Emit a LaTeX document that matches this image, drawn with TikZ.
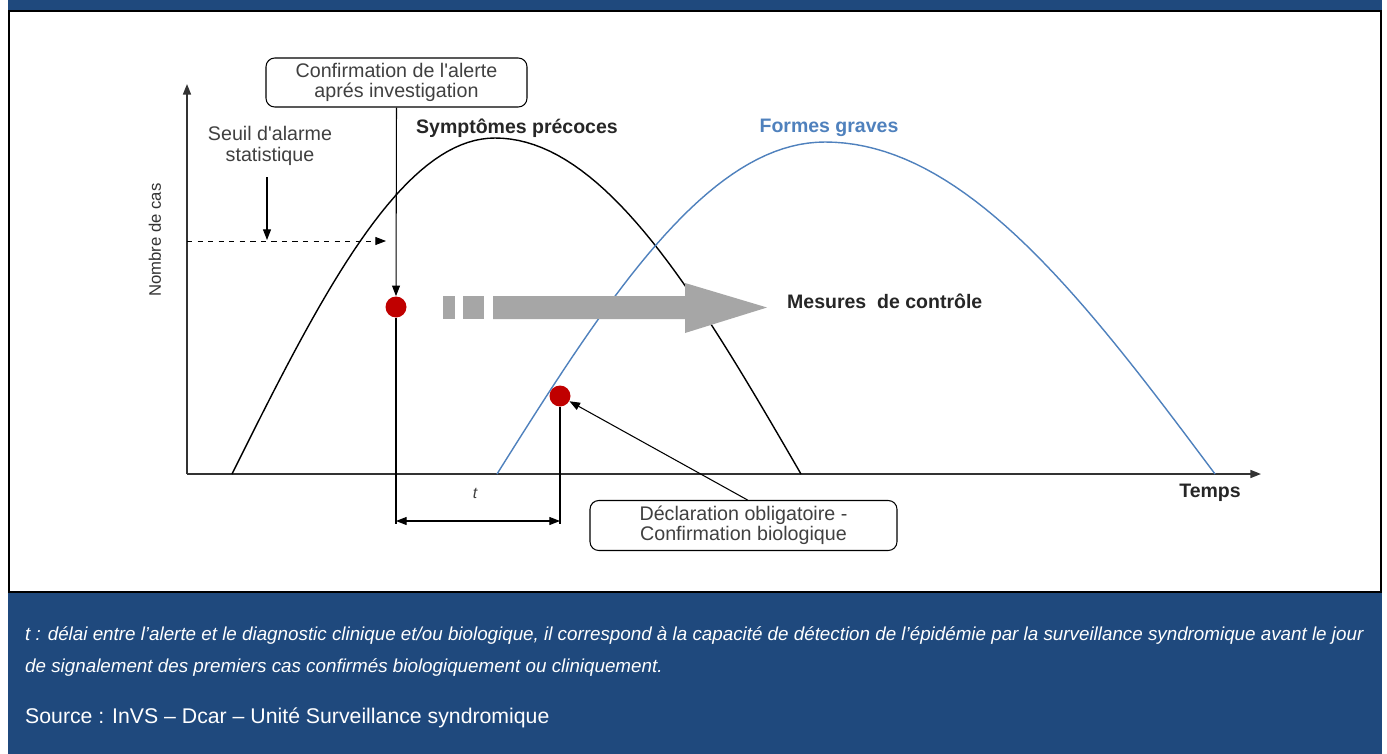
\documentclass[tikz,border=0pt]{standalone}
\usepackage{fontspec}
\setmainfont{Liberation Sans}[Ligatures=TeXOff]
\usepackage{xcolor}
\usetikzlibrary{arrows.meta,positioning,calc}

\definecolor{bandblue}{HTML}{1F497D}
\definecolor{curveblue}{HTML}{4F81BD}
\definecolor{dotred}{HTML}{C00000}
\definecolor{arrowgray}{HTML}{A6A6A6}
\definecolor{textgray}{HTML}{404040}
\definecolor{axisgray}{HTML}{333333}

\begin{document}
\begin{tikzpicture}[x=0.02cm, y=-0.02cm,
    labelbox/.style={draw, rounded corners=5pt, line width=0.6pt, text=textgray, align=center,
        font=\fontsize{11.2}{12.5}\selectfont, inner sep=0pt},
    plain/.style={text=textgray, align=center, font=\fontsize{11.2}{12.5}\selectfont},
    boldlabel/.style={font=\bfseries\fontsize{11.1}{12.5}\selectfont, text=black!85},
    reddot/.style={circle, fill=dotred, inner sep=0pt, minimum size=0.42cm},
    tip/.style={-{Triangle[length=6pt,width=4.5pt]}},
    footer/.style={anchor=west, text=white, font=\itshape\fontsize{10.7}{12}\selectfont}]
    \useasboundingbox (0,0) rectangle (1387,754);

    % frame, header band and footer
    \fill[white] (0,0) rectangle (1387,754);
    \fill[bandblue] (8,0) rectangle (1382,754);
    \draw[line width=1.3pt, fill=white] (9,11) rectangle (1381,592);

    % axes
    \coordinate (origin) at (187,474);
    \draw[axisgray, line width=0.9pt, tip] (origin) -- (187,84);
    \draw[axisgray, line width=0.9pt, tip] (origin) -- (1261,474);
    \node[rotate=90, font=\fontsize{9.5}{11}\selectfont, text=black!80] (ylabel) at (155,240) {Nombre de cas};
    \node[boldlabel] (temps) at (1210,493) {Temps};

    % the two epidemic curves
    \draw[line width=0.8pt] plot[domain=232:495, samples=40] (\x, {474-336*sin(90/263*(\x-232))})
        -- plot[domain=495:801, samples=40] (\x, {474-336*cos(90/306*(\x-495))});
    \draw[curveblue, line width=0.8pt] plot[domain=497:825, samples=40] (\x, {474-332*sin(90/328*(\x-497))})
        -- plot[domain=825:1215, samples=40] (\x, {474-332*cos(90/390*(\x-825))});
    \node[boldlabel] (precoces) at (517,128) {Symptômes précoces};
    \node[boldlabel, text=curveblue] (graves) at (829,128) {Formes graves};

    % alarm threshold
    \node[plain] (seuil) at (270,146) {Seuil d'alarme\\[-1pt]statistique};
    \coordinate (seuilpt) at (267,240);
    \coordinate (dashend) at (386,241);
    \draw[tip, line width=0.6pt] (seuil.south) ++(-3,6) -- (seuilpt);
    \draw[tip, dashed, line width=0.5pt] (187,241) -- (dashend);

    % control measures arrow
    \fill[arrowgray] (443,296) rectangle (455,319);
    \fill[arrowgray] (463,296) rectangle (484,319);
    \fill[arrowgray] (493,296) -- (685,296) -- (685,283) -- (767,307.5) -- (685,333) -- (685,319) -- (493,319) -- cycle;
    \node[boldlabel, anchor=west] (mesures) at (781,301) {Mesures~ de contrôle};

    % alert and confirmation
    \node[labelbox, minimum width=261*0.02cm, minimum height=49*0.02cm] (confirm) at (396.5,82.5)
        {Confirmation de l'alerte\\[-1pt]aprés investigation};
    \node[reddot] (dotalert) at (396,307) {};
    \node[reddot] (dotbio) at (560,396) {};
    \draw[tip, line width=0.6pt] (confirm.south) -- (dotalert.north);

    \node[labelbox, minimum width=307*0.02cm, minimum height=50*0.02cm] (decl) at (743.5,525.5)
        {Déclaration obligatoire -\\[-1pt]Confirmation biologique};
    \draw[tip, line width=0.6pt] ($(decl.north)+(4,0)$) -- (dotbio);

    % delay t
    \coordinate (tleft) at (396,521);
    \coordinate (tright) at (560,521);
    \draw[line width=0.6pt] (dotalert.south) -- (396,524);
    \draw[line width=0.6pt] (dotbio.south) -- (560,524);
    \draw[{Triangle[length=6pt,width=4.5pt]}-{Triangle[length=6pt,width=4.5pt]}, line width=0.6pt] (tleft) -- (tright);
    \node[text=textgray, font=\itshape\fontsize{9}{10}\selectfont] (tlabel) at (475,493) {t};

    % footer text
    \node[footer] (note1) at (19,636) {t : délai entre l’alerte et le diagnostic clinique et/ou biologique, il correspond à la capacité de détection de l’épidémie par la surveillance syndromique avant le jour};
    \node[footer] (note2) at (19,668) {de signalement des premiers cas confirmés biologiquement ou cliniquement.};
    \node[footer, font=\fontsize{12.1}{14}\selectfont] (source) at (19,718) {Source : InVS – Dcar – Unité Surveillance syndromique};
\end{tikzpicture}
\end{document}
